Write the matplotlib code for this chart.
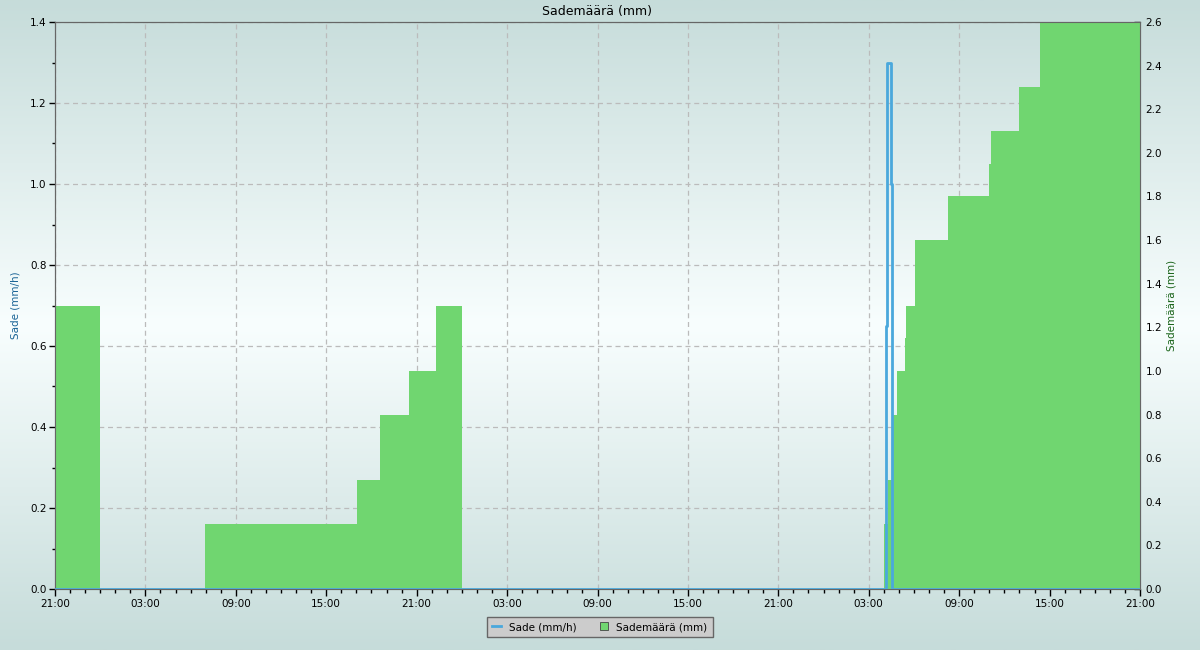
import numpy as np
import matplotlib
matplotlib.use("Agg")
import matplotlib.pyplot as plt
from matplotlib.ticker import MultipleLocator, FixedLocator
from matplotlib.colors import LinearSegmentedColormap
from matplotlib.lines import Line2D
from matplotlib.patches import Patch

## Data (hours from 21:00 of the first day)
cum_hours = [0, 3, 9.95, 20.04, 21.57, 23.49, 25.28, 27.01, 55.01, 55.28, 55.61, 55.88,
             56.41, 56.47, 57.07, 59.26, 61.98, 62.08, 63.97, 65.37, 72]
cum_mm = [1.3, 0.0, 0.3, 0.5, 0.8, 1.0, 1.3, 0.0, 0.3, 0.5, 0.8, 1.0,
          1.15, 1.3, 1.6, 1.8, 1.95, 2.1, 2.3, 2.6, 2.6]

rate_hours = [0, 55.15, 55.24, 55.47, 55.56, 72]
rate_mmh = [0.0, 0.65, 1.3, 1.0, 0.0, 0.0]

tick_hours = [0, 6, 12, 18, 24, 30, 36, 42, 48, 54, 60, 66, 72]
tick_labels = ["21:00", "03:00", "09:00", "15:00", "21:00", "03:00", "09:00",
               "15:00", "21:00", "03:00", "09:00", "15:00", "21:00"]

title = "Sademäärä (mm)"
left_label = "Sade (mm/h)"
right_label = "Sademäärä (mm)"

blue = "#4aa8dc"
green = "#70d670"

plt.rcParams['font.family'] = ['DejaVu Sans']

fig = plt.figure(figsize=(12, 6.5), dpi=100)

# background gradient over the whole figure
bg = fig.add_axes([0, 0, 1, 1], zorder=-10)
cmap = LinearSegmentedColormap.from_list("bg", [(0, "#c6dcda"), (0.5, "#f8fefe"), (1, "#c6dcda")])
grad = np.linspace(0, 1, 256).reshape(-1, 1)
bg.imshow(grad, aspect="auto", cmap=cmap, extent=[0, 1, 0, 1])
bg.axis("off")

ax = fig.add_axes([55 / 1200, 61 / 650, 1085 / 1200, 567 / 650])
ax.patch.set_visible(False)
ax2 = ax.twinx()
ax2.patch.set_visible(False)

ax.set_xlim(0, 72)
ax.set_ylim(0, 1.4)
ax2.set_ylim(0, 2.6)

# grid (left axis) stays under the fill on ax2
ax.grid(True, color="#bbbbbb", linestyle=(0, (4, 3)), linewidth=0.9)
ax.set_axisbelow(True)

ax2.fill_between(cum_hours, cum_mm, step="post", color=green, linewidth=0, zorder=2)
ax2.step(rate_hours, rate_mmh, where="post", color=blue, linewidth=2,
         transform=ax.transData, zorder=3)

ax.xaxis.set_major_locator(FixedLocator(tick_hours))
ax.set_xticklabels(tick_labels)
ax.xaxis.set_minor_locator(MultipleLocator(1))
ax.yaxis.set_major_locator(MultipleLocator(0.2))
ax.yaxis.set_minor_locator(MultipleLocator(0.1))
ax.yaxis.set_major_formatter(plt.FuncFormatter(lambda v, p: "%.1f" % v))
ax2.yaxis.set_major_locator(MultipleLocator(0.2))
ax2.yaxis.set_minor_locator(MultipleLocator(0.1))
ax2.yaxis.set_major_formatter(plt.FuncFormatter(lambda v, p: "%.1f" % v))

ax.tick_params(axis="x", which="major", direction="out", length=5, width=1, labelsize=7.5, pad=2)
ax.tick_params(axis="x", which="minor", direction="out", length=3, width=1)
ax.tick_params(axis="y", which="major", direction="out", length=4, width=1, labelsize=7.5, pad=2)
ax.tick_params(axis="y", which="minor", direction="out", length=2, width=1)
ax2.tick_params(axis="y", which="major", direction="in", length=4, width=1, labelsize=7.5, pad=4)
ax2.tick_params(axis="y", which="minor", direction="in", length=2, width=1)

for a in (ax, ax2):
    for s in a.spines.values():
        s.set_color("#666666")

ax.set_title(title, fontsize=9, pad=5)
ax.set_ylabel(left_label, fontsize=7.5, color="#1a6496", labelpad=7)
ax2.set_ylabel(right_label, fontsize=7.5, color="#1a641a", labelpad=3)

handles = [Line2D([], [], color=blue, linewidth=2),
           Patch(facecolor=green, edgecolor="#444444", linewidth=0.6)]
leg = fig.legend(handles, [left_label, right_label], loc="center",
                 bbox_to_anchor=(0.5, 23 / 650), ncol=2, fontsize=7.5,
                 frameon=True, fancybox=False, facecolor="#cccccc", edgecolor="#666666",
                 handlelength=0.8, handleheight=0.8, columnspacing=2.2, borderpad=0.5)
leg.get_frame().set_alpha(1)

fig.savefig("out.png", dpi=100)
